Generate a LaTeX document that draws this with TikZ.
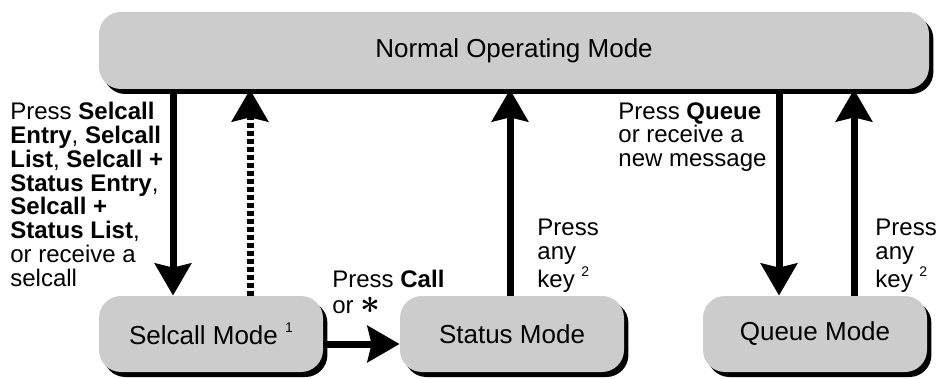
\documentclass[tikz,border=0pt]{standalone}
\usepackage{fontspec}
\setmainfont{Liberation Sans}
\usetikzlibrary{arrows.meta,shadows}
\definecolor{g0}{HTML}{CCCCCC}
\newcommand{\fnote}[1]{~\raisebox{0.9ex}{\fontsize{7}{7}\selectfont #1}}

\begin{document}
\begin{tikzpicture}[x=0.5pt,y=-0.5pt,
	modebox/.style={fill=g0, rounded corners=11pt, minimum width=112pt, minimum height=38pt, inner sep=0pt,
		font=\fontsize{13}{15}\selectfont,
		drop shadow={shadow xshift=2.2pt, shadow yshift=-2.5pt, fill=black, opacity=1}},
	hint/.style={anchor=north west, inner sep=0pt, align=left, font=\fontsize{12}{11.9}\selectfont},
	arr/.style={line width=3.5pt, -{Stealth[length=16pt,width=18pt,inset=2pt]}},
	dotarr/.style={arr, dash pattern=on 2.25pt off 1.75pt}
]
\useasboundingbox (0,0) rectangle (936,379);

% mode boxes
\node[modebox, minimum width=415pt, minimum height=38.5pt] (normal) at (514,50.5) {Normal Operating Mode};
\node[modebox] (sel) at (211,334) {Selcall Mode\fnote{1}};
\node[modebox] (stat) at (512,334) {Status Mode};
\node[modebox] (queue) at (815,334) {Queue Mode};

% arrow feet
\coordinate (seldown) at ([xshift=-19pt]sel.north);
\coordinate (selup) at ([xshift=19.5pt]sel.north);
\coordinate (statup) at ([xshift=-1pt]stat.north);
\coordinate (qdown) at ([xshift=-18pt]queue.north);
\coordinate (qup) at ([xshift=19.5pt]queue.north);
\coordinate (callout) at ([yshift=-5pt]sel.east);

\draw[arr] (seldown |- normal.south) -- (seldown);
\draw[dotarr] (selup) -- (selup |- normal.south);
\draw[arr] (statup) -- (statup |- normal.south);
\draw[arr] (qdown |- normal.south) -- (qdown);
\draw[arr] (qup) -- (qup |- normal.south);
\draw[arr] (callout) -- (callout -| stat.west);

% labels
\node[hint] (selnote) at (10,102) {Press \textbf{Selcall}\\ \textbf{Entry}, \textbf{Selcall}\\ \textbf{List}, \textbf{Selcall +}\\ \textbf{Status Entry},\\ \textbf{Selcall +}\\ \textbf{Status List},\\ or receive a\\ selcall};
\node[hint, font=\fontsize{12}{12.8}\selectfont] (callnote) at (332,270) {Press \textbf{Call}\\ or \smash{\fontsize{16}{12}\selectfont\boldmath$\ast$}};
\node[hint] (statnote) at (537,219) {Press\\ any\\ key\fnote{2}};
\node[hint] (queuenote) at (618,102) {Press \textbf{Queue}\\ or receive a\\ new message};
\node[hint] (backnote) at (875,219) {Press\\ any\\ key\fnote{2}};

\end{tikzpicture}
\end{document}
